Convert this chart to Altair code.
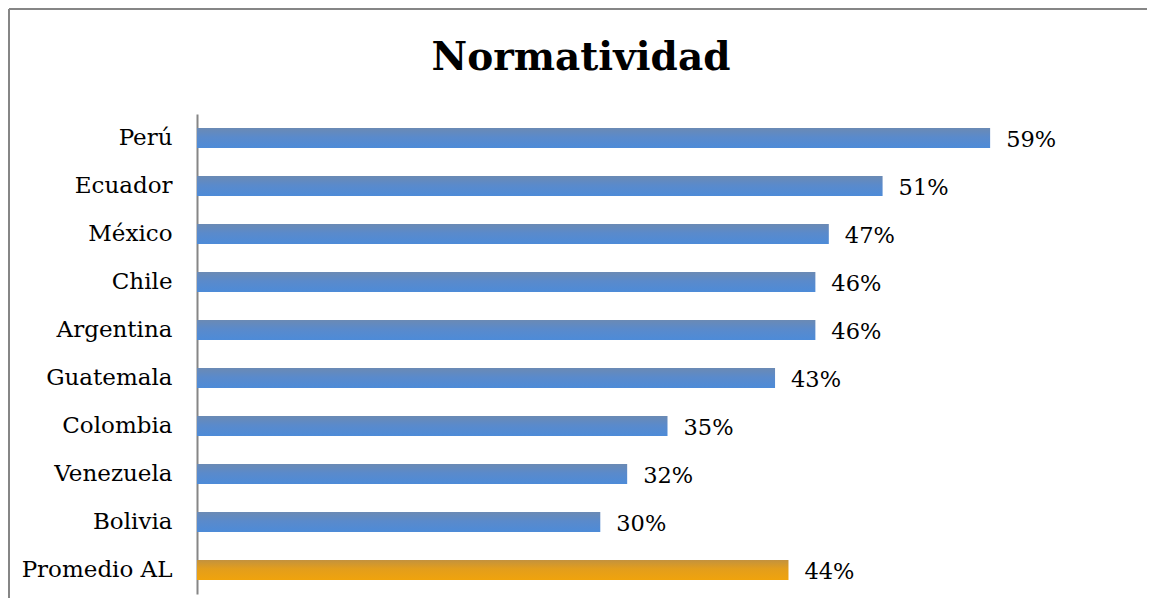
import altair as alt
import pandas as pd

countries = ["Perú", "Ecuador", "México", "Chile", "Argentina", "Guatemala",
             "Colombia", "Venezuela", "Bolivia", "Promedio AL"]
values = [0.59, 0.51, 0.47, 0.46, 0.46, 0.43, 0.35, 0.32, 0.30, 0.44]
groups = ["País"] * 9 + ["Promedio"]
title_text = "Normatividad"

df = pd.DataFrame({"pais": countries, "valor": values, "grupo": groups})
df["etiqueta"] = [f"{round(v * 100)}%" for v in values]

W, H = 941, 480
FONT = "DejaVu Serif"

blue = alt.Gradient(
    gradient="linear", x1=0, x2=0, y1=0, y2=1,
    stops=[alt.GradientStop(color="#6b8ab4", offset=0),
           alt.GradientStop(color="#5a8acb", offset=0.45),
           alt.GradientStop(color="#4d8bd8", offset=1)])
orange = alt.Gradient(
    gradient="linear", x1=0, x2=0, y1=0, y2=1,
    stops=[alt.GradientStop(color="#c3923e", offset=0),
           alt.GradientStop(color="#e39e1c", offset=0.45),
           alt.GradientStop(color="#f0a30c", offset=1)])

x_enc = alt.X("valor:Q", scale=alt.Scale(domain=[0, 0.7], nice=False), axis=None)
y_enc = alt.Y("pais:N", sort=countries,
              scale=alt.Scale(paddingInner=0.58, paddingOuter=0.29),
              axis=alt.Axis(title=None, ticks=False, labelPadding=25,
                            labelFont=FONT, labelFontSize=23, labelColor="#000000",
                            domainColor="#868686", domainWidth=2, grid=False))

base = alt.Chart(df)

bars_blue = base.mark_bar(color=blue).encode(x=x_enc, y=y_enc).transform_filter(
    alt.datum.grupo == "País")
bars_orange = base.mark_bar(color=orange).encode(x=x_enc, y=y_enc).transform_filter(
    alt.datum.grupo == "Promedio")

labels = base.mark_text(align="left", baseline="middle", dx=16, dy=2,
                        font=FONT, fontSize=22.5, color="#000000").encode(
    x="valor:Q", y=alt.Y("pais:N", sort=countries), text="etiqueta:N")

one = alt.Data(values=[{}])
title = alt.Chart(one).mark_text(align="center", baseline="alphabetic", font=FONT,
                                 fontSize=39, fontWeight="bold", color="#000000").encode(
    x=alt.value(384), y=alt.value(-44), text=alt.value(title_text))

border_top = alt.Chart(one).mark_rule(color="#868686", strokeWidth=2).encode(
    x=alt.value(-188), x2=alt.value(950), y=alt.value(-105))
border_left = alt.Chart(one).mark_rule(color="#868686", strokeWidth=2).encode(
    x=alt.value(-188), y=alt.value(-105), y2=alt.value(484))

chart = alt.layer(border_top, border_left, title, bars_blue, bars_orange, labels).properties(
    width=W, height=H, padding=0
).configure_view(stroke=None)

chart.save("out.html", embed_options={"renderer": "svg", "actions": False})
